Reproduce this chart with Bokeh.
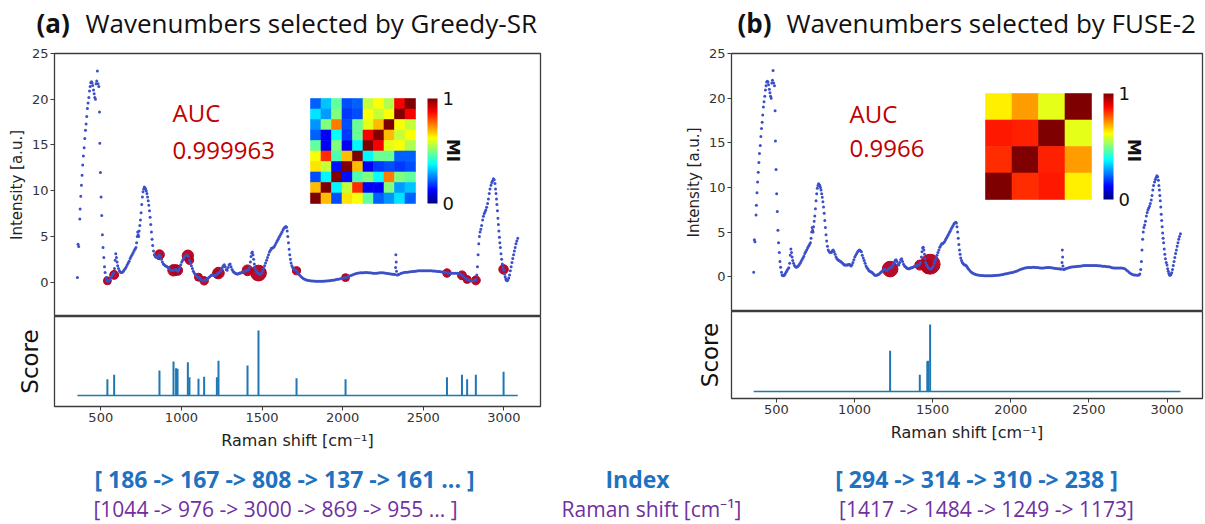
import numpy as np
from bokeh.plotting import figure
from bokeh.models import Range1d, Label, ColorBar, LinearColorMapper, FixedTicker, ColumnDataSource
from bokeh.layouts import column, row
from bokeh.embed import file_html
from bokeh.resources import INLINE
from bokeh.core.properties import value
from bokeh.transform import linear_cmap

# ---------------- data ----------------
raman_shift = [355, 359, 363, 370, 372, 376, 380, 384, 388, 392, 397, 401, 405, 409, 413, 417, 421, 426, 430, 434,
               438, 442, 446, 450, 455, 459, 463, 467, 471, 475, 479, 483, 488, 492, 494, 498, 502, 506, 510, 514,
               519, 523, 527, 533, 537, 541, 545, 550, 556, 562, 568, 574, 580, 585, 589, 593, 597, 601, 605, 610,
               616, 622, 628, 634, 640, 646, 652, 658, 664, 670, 676, 682, 688, 694, 700, 706, 712, 718, 722, 726,
               729, 732, 735, 738, 742, 746, 750, 754, 758, 762, 766, 770, 774, 778, 782, 786, 790, 794, 798, 802,
               806, 810, 814, 818, 822, 827, 832, 838, 845, 852, 858, 864, 870, 876, 882, 888, 894, 900, 906, 912,
               918, 924, 930, 936, 942, 948, 954, 960, 966, 972, 978, 984, 990, 996, 1002, 1008, 1014, 1020, 1026, 1032,
               1038, 1044, 1050, 1056, 1062, 1068, 1074, 1080, 1086, 1092, 1098, 1104, 1110, 1116, 1122, 1128, 1134, 1140, 1146, 1152,
               1158, 1164, 1170, 1176, 1182, 1188, 1194, 1200, 1206, 1212, 1218, 1224, 1230, 1236, 1242, 1248, 1254, 1260, 1266, 1272,
               1278, 1284, 1290, 1296, 1302, 1308, 1314, 1320, 1326, 1332, 1338, 1344, 1350, 1356, 1362, 1368, 1374, 1380, 1386, 1392,
               1398, 1404, 1410, 1416, 1422, 1428, 1432, 1436, 1440, 1444, 1448, 1452, 1456, 1462, 1468, 1474, 1480, 1486, 1492, 1498,
               1504, 1510, 1516, 1522, 1528, 1534, 1540, 1546, 1552, 1558, 1564, 1570, 1576, 1582, 1588, 1594, 1600, 1606, 1612, 1618,
               1624, 1630, 1636, 1642, 1648, 1652, 1656, 1660, 1664, 1668, 1672, 1676, 1680, 1685, 1690, 1696, 1702, 1708, 1714, 1720,
               1726, 1732, 1740, 1748, 1756, 1764, 1772, 1780, 1790, 1800, 1810, 1820, 1830, 1840, 1850, 1860, 1870, 1880, 1890, 1900,
               1910, 1920, 1930, 1940, 1950, 1960, 1970, 1980, 1990, 2000, 2010, 2020, 2030, 2040, 2050, 2060, 2070, 2080, 2090, 2100,
               2110, 2120, 2130, 2140, 2150, 2160, 2170, 2180, 2190, 2200, 2210, 2220, 2230, 2240, 2250, 2260, 2270, 2280, 2290, 2300,
               2310, 2318, 2324, 2328, 2330, 2332, 2334, 2338, 2344, 2350, 2360, 2370, 2380, 2390, 2400, 2410, 2420, 2430, 2440, 2450,
               2460, 2470, 2480, 2490, 2500, 2510, 2520, 2530, 2540, 2550, 2560, 2570, 2580, 2590, 2600, 2610, 2620, 2630, 2640, 2650,
               2660, 2670, 2680, 2690, 2700, 2710, 2720, 2730, 2740, 2750, 2760, 2770, 2780, 2790, 2800, 2810, 2820, 2826, 2832, 2836,
               2840, 2844, 2848, 2852, 2857, 2862, 2868, 2873, 2878, 2883, 2888, 2893, 2899, 2904, 2909, 2914, 2920, 2925, 2930, 2935,
               2940, 2945, 2948, 2951, 2954, 2957, 2960, 2963, 2966, 2969, 2972, 2975, 2978, 2982, 2986, 2990, 2995, 3000, 3004, 3008,
               3012, 3016, 3020, 3025, 3030, 3035, 3040, 3045, 3050, 3055, 3060, 3065, 3070, 3075, 3080, 3086]
intensity = [0.5, 4.15, 3.9, 6.9, 8.0, 9.4, 10.6, 11.7, 12.8, 13.8, 14.7, 15.7, 16.6, 17.3, 18.1, 19.0, 19.6, 20.2, 20.9, 21.4,
             21.8, 21.9, 21.8, 21.5, 21.0, 20.6, 20.2, 20.0, 21.7, 22.0, 23.1, 21.7, 21.4, 18.6, 15.2, 12.0, 9.3, 7.3, 5.2, 3.8,
             2.7, 1.7, 1.05, 0.5, 0.2, 0.12, 0.1, 0.15, 0.3, 0.5, 0.7, 0.85, 1.0, 1.5, 2.4, 3.1, 2.7, 2.2, 1.8, 1.5,
             1.25, 1.1, 1.05, 1.1, 1.2, 1.35, 1.5, 1.7, 1.9, 2.1, 2.3, 2.6, 2.8, 3.0, 3.2, 3.4, 3.6, 3.8, 4.3, 5.0,
             5.5, 5.2, 5.0, 5.6, 6.2, 6.8, 7.6, 8.5, 9.3, 9.9, 10.2, 10.4, 10.3, 10.2, 10.0, 9.7, 9.3, 8.9, 8.4, 7.8,
             7.1, 6.3, 5.5, 4.7, 4.0, 3.4, 3.0, 2.8, 2.7, 2.7, 2.9, 3.0, 2.8, 2.5, 2.2, 2.0, 1.9, 1.8, 1.75, 1.7,
             1.6, 1.5, 1.4, 1.3, 1.3, 1.3, 1.3, 1.35, 1.4, 1.3, 1.2, 1.35, 1.6, 1.9, 2.2, 2.4, 2.6, 2.8, 2.9, 3.0,
             2.9, 2.8, 2.4, 2.1, 1.8, 1.5, 1.2, 1.0, 0.85, 0.7, 0.6, 0.55, 0.5, 0.4, 0.3, 0.2, 0.15, 0.15, 0.2, 0.25,
             0.3, 0.4, 0.5, 0.6, 0.7, 0.8, 0.8, 0.75, 0.7, 0.75, 0.85, 0.95, 1.0, 1.05, 1.2, 1.4, 1.6, 1.8, 1.9, 1.7,
             1.4, 1.3, 1.6, 1.9, 2.0, 1.7, 1.4, 1.2, 1.1, 1.0, 0.95, 0.9, 0.9, 0.95, 1.0, 1.0, 1.05, 1.1, 1.15, 1.2,
             1.25, 1.3, 1.3, 1.35, 1.6, 2.2, 2.8, 3.2, 3.3, 3.0, 2.5, 2.0, 1.6, 1.3, 1.1, 1.0, 0.9, 0.85, 0.9, 1.0,
             1.2, 1.5, 1.8, 2.1, 2.4, 2.7, 3.0, 3.3, 3.5, 3.7, 3.7, 3.8, 3.9, 4.1, 4.3, 4.5, 4.7, 4.9, 5.1, 5.3,
             5.5, 5.7, 5.9, 6.0, 6.1, 6.0, 5.6, 5.0, 4.3, 3.6, 3.0, 2.5, 2.1, 1.8, 1.6, 1.45, 1.35, 1.3, 1.25, 1.1,
             0.95, 0.8, 0.65, 0.5, 0.4, 0.32, 0.26, 0.22, 0.18, 0.15, 0.13, 0.12, 0.11, 0.1, 0.1, 0.1, 0.1, 0.1, 0.12, 0.13,
             0.15, 0.17, 0.2, 0.22, 0.25, 0.3, 0.33, 0.36, 0.4, 0.44, 0.48, 0.52, 0.58, 0.65, 0.72, 0.8, 0.87, 0.93, 0.98, 1.0,
             1.02, 1.03, 1.04, 1.05, 1.05, 1.04, 1.02, 1.0, 0.98, 0.97, 0.98, 1.0, 1.02, 1.03, 1.02, 1.0, 0.98, 0.95, 0.92, 0.9,
             0.88, 0.86, 0.85, 1.6, 3.0, 2.2, 1.2, 0.8, 0.82, 0.88, 0.95, 1.0, 1.05, 1.08, 1.1, 1.12, 1.14, 1.16, 1.18, 1.2,
             1.22, 1.24, 1.25, 1.25, 1.25, 1.25, 1.25, 1.25, 1.25, 1.24, 1.23, 1.22, 1.2, 1.18, 1.16, 1.14, 1.12, 1.1, 1.05, 1.0,
             0.98, 0.97, 0.97, 0.98, 0.98, 0.97, 0.95, 0.88, 0.75, 0.6, 0.45, 0.32, 0.25, 0.2, 0.18, 0.17, 0.2, 0.3, 0.8, 1.7,
             3.0, 4.2, 5.0, 5.5, 5.8, 6.2, 6.8, 7.2, 7.5, 7.7, 7.9, 8.2, 8.6, 9.1, 9.7, 10.2, 10.6, 10.9, 11.1, 11.3,
             11.2, 10.8, 10.2, 9.7, 9.1, 8.5, 7.8, 7.0, 6.3, 5.6, 4.9, 4.3, 3.8, 3.1, 2.5, 2.0, 1.6, 1.3, 0.9, 0.6,
             0.35, 0.2, 0.15, 0.25, 0.45, 0.8, 1.25, 1.7, 2.15, 2.6, 3.0, 3.4, 3.8, 4.2, 4.5, 4.8]

# Greedy-SR selection (panel a)
sel_shift_a = [541, 583, 864, 951, 967, 976, 1040, 1050, 1106, 1141, 1220, 1230, 1410, 1478, 1714, 2018, 2647, 2740, 2772, 2826, 2998]
sel_score_a = [0.49, 0.62, 0.75, 1.02, 0.82, 0.80, 1.00, 0.55, 0.50, 0.56, 0.55, 1.04, 0.90, 1.95, 0.52, 0.49, 0.55, 0.62, 0.49, 0.62, 0.71]
sel_int_a = [0.15, 0.8, 3.0, 1.3, 1.35, 1.3, 2.9, 2.4, 0.55, 0.15, 0.9, 1.0, 1.3, 1.0, 1.25, 0.5, 1.0, 0.75, 0.3, 0.2, 1.4]

# FUSE-2 selection (panel b)
sel_shift_b = [1228, 1418, 1466, 1471, 1484]
sel_score_b = [1.22, 0.50, 0.90, 0.92, 2.00]
sel_int_b = [0.85, 1.3, 1.2, 1.1, 1.4]

# mutual information matrices (rows top -> bottom as displayed)
mi_a = [
    [0.22, 0.32, 0.47, 0.20, 0.22, 0.57, 0.62, 0.55, 0.88, 1.00],
    [0.35, 0.28, 0.50, 0.18, 0.20, 0.62, 0.57, 0.62, 1.00, 0.88],
    [0.27, 0.50, 0.75, 0.20, 0.48, 0.60, 0.69, 1.00, 0.62, 0.57],
    [0.22, 0.12, 0.38, 0.18, 0.48, 0.88, 1.00, 0.69, 0.57, 0.62],
    [0.47, 0.12, 0.50, 0.12, 0.37, 1.00, 0.88, 0.60, 0.62, 0.55],
    [0.62, 0.83, 0.45, 0.69, 1.00, 0.37, 0.48, 0.48, 0.22, 0.22],
    [0.65, 0.57, 0.14, 1.00, 0.69, 0.12, 0.18, 0.20, 0.18, 0.20],
    [0.20, 0.37, 1.00, 0.14, 0.45, 0.50, 0.38, 0.75, 0.50, 0.47],
    [0.69, 1.00, 0.37, 0.57, 0.83, 0.12, 0.12, 0.50, 0.28, 0.32],
    [1.00, 0.69, 0.20, 0.65, 0.62, 0.47, 0.22, 0.27, 0.35, 0.22],
]
mi_b = [
    [0.64, 0.72, 0.60, 1.00],
    [0.85, 0.84, 1.00, 0.60],
    [0.83, 1.00, 0.84, 0.72],
    [1.00, 0.83, 0.85, 0.64],
]

auc_a = "0.999963"
auc_b = "0.9966"
y_ticks = [0, 5, 10, 15, 20, 25]
x_ticks = [500, 1000, 1500, 2000, 2500, 3000]
tag_a, title_a = "(a)", "Wavenumbers selected by Greedy-SR"
tag_b, title_b = "(b)", "Wavenumbers selected by FUSE-2"
index_a = "[ 186 -> 167 -> 808 -> 137 -> 161 ... ]"
index_b = "[ 294 -> 314 -> 310 -> 238 ]"
shift_a = "[1044 -> 976 -> 3000 -> 869 -> 955 ... ]"
shift_b = "[1417 -> 1484 -> 1249 -> 1173]"

# ---------------- style ----------------
SANS = "Open Sans"
AX = "DejaVu Sans"
FRAME = "#3c3c3c"
DOT = "#3b50c8"
MARK = "#b3001e"
RED_TXT = "#c00000"
BLUE_TXT = "#1f72bf"
PURPLE = "#7030a0"
X_RANGE = (213, 3227)
W, H = 1205, 524


def jet(n=256):
    x = np.linspace(0, 1, n)
    r = np.clip(1.5 - np.abs(4 * x - 3), 0, 1)
    g = np.clip(1.5 - np.abs(4 * x - 2), 0, 1)
    b = np.clip(1.5 - np.abs(4 * x - 1), 0, 1)
    return ["#%02x%02x%02x" % (int(255 * a), int(255 * c), int(255 * d)) for a, c, d in zip(r, g, b)]


JET = jet()


def base_style(p):
    p.xgrid.visible = False
    p.ygrid.visible = False
    p.outline_line_color = FRAME
    p.outline_line_width = 1.3
    p.border_fill_color = "white"


def top_panel(fw, fh, left, right, ylo, mi, inset, cbar, mi_lbl, auc, auc_pos,
              sel_shift, sel_int, sel_score, ksize):
    p = figure(frame_width=fw, frame_height=fh, min_border_left=left, min_border_right=right,
               min_border_top=8, min_border_bottom=0, x_range=Range1d(*X_RANGE), y_range=Range1d(ylo, 25),
               x_axis_location=None, output_backend="svg", toolbar_location=None)
    base_style(p)
    ax = p.yaxis[0]
    ax.ticker = FixedTicker(ticks=y_ticks)
    ax.major_tick_out = 4
    ax.major_tick_in = 0
    ax.minor_tick_line_color = None
    ax.axis_line_color = FRAME
    ax.major_tick_line_color = FRAME
    ax.major_label_text_font = AX
    ax.major_label_text_font_size = "13px"
    ax.major_label_text_color = "#333333"
    ax.major_label_standoff = 2
    ax.axis_label = "Intensity [a.u.]"
    ax.axis_label_text_font = AX
    ax.axis_label_text_font_size = "15px"
    ax.axis_label_text_font_style = "normal"
    ax.axis_label_text_color = "#222222"
    ax.axis_label_standoff = 3

    # selected wavenumbers (under the spectrum)
    sizes = [ksize * np.sqrt(s) for s in sel_score]
    p.scatter(x=sel_shift, y=sel_int, size=sizes, fill_color=MARK, line_color=MARK, fill_alpha=0.95)
    # spectrum
    p.scatter(x=raman_shift, y=intensity, size=3.0, fill_color=DOT, line_color=None)

    # inset heatmap on its own ranges
    n = len(mi)
    il, ib, isz = inset
    p.extra_x_ranges = {"hx": Range1d(-il * n / isz, (fw - il) * n / isz)}
    p.extra_y_ranges = {"hy": Range1d(-ib * n / isz, (fh - ib) * n / isz)}
    xs, ys, vs = [], [], []
    for r, rowv in enumerate(mi):
        for c, v in enumerate(rowv):
            xs.append(c + 0.5)
            ys.append(n - r - 0.5)
            vs.append(v)
    src = ColumnDataSource(dict(x=xs, y=ys, v=vs))
    cmap = linear_cmap("v", JET, 0, 1)
    p.rect(x="x", y="y", width=1, height=1, source=src, x_range_name="hx", y_range_name="hy",
           fill_color=cmap, line_color=cmap, line_width=0.6)

    mapper = LinearColorMapper(palette=JET, low=0, high=1)
    cb = ColorBar(color_mapper=mapper, location=cbar, orientation="vertical", width=10, height=isz,
                  padding=0, margin=0, ticker=FixedTicker(ticks=[0, 1]),
                  major_label_text_font=AX, major_label_text_font_size="18px",
                  major_label_text_color="#111111", major_tick_line_color=None, minor_tick_line_color=None,
                  bar_line_color=None, border_line_color=None, background_fill_alpha=0, label_standoff=5)
    p.add_layout(cb)
    p.add_layout(Label(x=mi_lbl[0], y=mi_lbl[1], x_units="screen", y_units="screen", text="MI",
                       angle=-np.pi / 2, text_font=AX, text_font_size="17px", text_font_style="bold",
                       text_align="center", text_baseline="middle", text_color="#111111"))

    p.add_layout(Label(x=auc_pos[0], y=auc_pos[1], x_units="screen", y_units="screen", text="AUC",
                       text_font=SANS, text_font_size="24px", text_color=RED_TXT, text_baseline="middle"))
    p.add_layout(Label(x=auc_pos[0], y=auc_pos[2], x_units="screen", y_units="screen", text=auc,
                       text_font=SANS, text_font_size="24px", text_color=RED_TXT, text_baseline="middle"))
    return p


def bottom_panel(fw, fh, left, right, bottom, ylo, yhi, sel_shift, sel_score, standoff):
    p = figure(frame_width=fw, frame_height=fh, min_border_left=left, min_border_right=right,
               min_border_top=0, min_border_bottom=bottom, x_range=Range1d(*X_RANGE), y_range=Range1d(ylo, yhi),
               output_backend="svg", toolbar_location=None)
    base_style(p)
    xa = p.xaxis[0]
    xa.ticker = FixedTicker(ticks=x_ticks)
    xa.major_tick_out = 4
    xa.major_tick_in = 0
    xa.minor_tick_line_color = None
    xa.axis_line_color = FRAME
    xa.major_tick_line_color = FRAME
    xa.major_label_text_font = AX
    xa.major_label_text_font_size = "13px"
    xa.major_label_text_color = "#333333"
    xa.major_label_standoff = 2
    xa.axis_label = "Raman shift [cm⁻¹]"
    xa.axis_label_text_font = AX
    xa.axis_label_text_font_size = "16px"
    xa.axis_label_text_font_style = "normal"
    xa.axis_label_text_color = "#222222"
    xa.axis_label_standoff = 6
    ya = p.yaxis[0]
    ya.ticker = FixedTicker(ticks=[])
    ya.major_tick_line_color = None
    ya.minor_tick_line_color = None
    ya.axis_line_color = FRAME
    ya.axis_label = "Score"
    ya.axis_label_text_font = AX
    ya.axis_label_text_font_size = "23px"
    ya.axis_label_text_font_style = "normal"
    ya.axis_label_text_color = "#111111"
    ya.axis_label_standoff = standoff

    p.line(x=[min(raman_shift), max(raman_shift)], y=[0, 0], line_color="#1f77b4", line_width=1.6)
    p.segment(x0=sel_shift, y0=[0] * len(sel_shift), x1=sel_shift, y1=sel_score,
              line_color="#1f77b4", line_width=2)
    return p


def strip(height):
    s = figure(frame_width=W, frame_height=height, min_border=0, x_range=Range1d(0, W), y_range=Range1d(0, height),
               x_axis_location=None, y_axis_location=None, output_backend="svg", toolbar_location=None)
    s.xgrid.visible = False
    s.ygrid.visible = False
    s.outline_line_color = None
    return s


# title strip
top_strip = strip(45)
top_strip.text(x=[36, 737], y=[23, 23], text=[tag_a, tag_b], text_font=value(SANS), text_font_size="26px",
               text_font_style="bold", text_color="#111111", text_baseline="middle")
top_strip.text(x=[85, 786], y=[23, 23], text=[title_a, title_b], text_font=value(SANS), text_font_size="26px",
               text_color="#111111", text_baseline="middle")

# panel a (frame x 54..540)
top_a = top_panel(486, 263, 54, 65, -3.75, mi_a, (256, 113, 105), (373, 113), (398, 166),
                  auc_a, (118, 204, 166), sel_shift_a, sel_int_a, sel_score_a, 11.3)
bot_a = bottom_panel(486, 90, 54, 65, 46, -0.33, 2.37, sel_shift_a, sel_score_a, 12)

# panel b (frame x 731..1202)
top_b = top_panel(471, 258, 126, 3, -3.9, mi_b, (254, 112, 106), (372, 112), (402, 161),
                  auc_b, (118, 198, 163), sel_shift_b, sel_int_b, sel_score_b, 14.1)
bot_b = bottom_panel(471, 87, 126, 3, 54, -0.21, 2.39, sel_shift_b, sel_score_b, 9)

# bottom text strip
t = strip(72)
t.text(x=[284, 637, 976], y=[46, 46, 46], text=[index_a, "Index", index_b], text_font=value(SANS),
       text_font_size="23px", text_font_style="bold", text_color=BLUE_TXT, text_align="center",
       text_baseline="middle")
t.text(x=[275, 651, 986], y=[16, 16, 16], text=[shift_a, "Raman shift [cm⁻¹]", shift_b], text_font=value(SANS),
       text_font_size="21px", text_color=PURPLE, text_align="center", text_baseline="middle")

layout = column(top_strip, row(column(top_a, bot_a), column(top_b, bot_b)), t)
open("out.html", "w").write(file_html(layout, INLINE))
